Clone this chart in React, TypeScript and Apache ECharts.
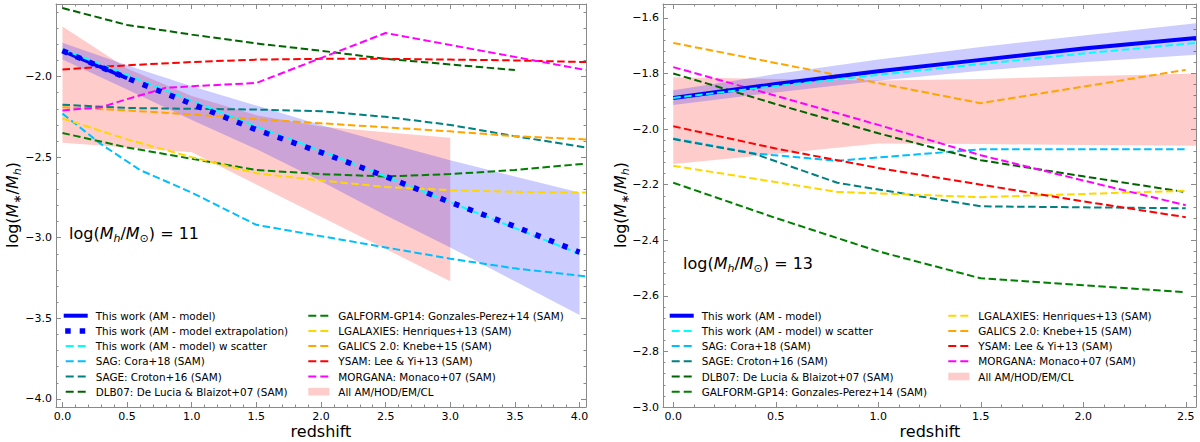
import React, { useEffect, useRef } from "react";
import * as echarts from "echarts";

const FONT = "DejaVu Sans";
const AX = "#8a8a8a";

// ---------- series names ----------
const N_AM = "This work (AM - model)";
const N_EXT = "This work (AM - model extrapolation)";
const N_SCAT = "This work (AM - model) w scatter";
const N_SAG = "SAG: Cora+18 (SAM)";
const N_SAGE = "SAGE: Croton+16 (SAM)";
const N_DLB = "DLB07: De Lucia & Blaizot+07 (SAM)";
const N_GP14 = "GALFORM-GP14: Gonzales-Perez+14 (SAM)";
const N_LGAL = "LGALAXIES: Henriques+13 (SAM)";
const N_GALICS = "GALICS 2.0: Knebe+15 (SAM)";
const N_YSAM = "YSAM: Lee & Yi+13 (SAM)";
const N_MORG = "MORGANA: Monaco+07 (SAM)";
const N_ALL = "All AM/HOD/EM/CL";

// ---------- left panel: log(Mh/Msun) = 11 ----------
const L_AM_Z = [0, 0.5];
const L_AM = [-1.84, -2.01];
const L_Z = [0, 0.5, 1, 1.5, 2, 2.5, 3, 3.5, 4];
const L_EXT = [-1.84, -2.01, -2.17, -2.33, -2.47, -2.62, -2.78, -2.93, -3.09];
const L_SCAT = [-1.83, -1.99, -2.15, -2.31, -2.46, -2.62, -2.78, -2.94, -3.1];
const L_BAND_HI = [-1.79, -1.93, -2.06, -2.18, -2.3, -2.41, -2.52, -2.62, -2.72];
const L_BAND_LO = [-1.894, -2.08, -2.27, -2.45, -2.65, -2.86, -3.06, -3.27, -3.48];
const L_ALL_Z = [0, 0.5, 1, 1.5, 2, 2.5, 3];
const L_ALL_HI = [-1.69, -1.95, -2.12, -2.24, -2.31, -2.345, -2.38];
const L_ALL_LO = [-2.41, -2.44, -2.47, -2.67, -2.87, -3.07, -3.27];
const L_SAG_Z = [0, 0.3, 0.6, 1, 1.5, 2, 2.5, 3, 3.5, 4.05];
const L_SAG = [-2.23, -2.42, -2.58, -2.72, -2.92, -2.99, -3.06, -3.13, -3.19, -3.24];
const L_SAM_Z = [0, 0.5, 1, 1.5, 2, 2.5, 3, 3.5, 4.05];
const L_SAGE = [-2.175, -2.195, -2.2, -2.205, -2.215, -2.25, -2.3, -2.37, -2.44];
const L_DLB_Z = [0, 0.5, 1, 1.5, 2, 2.5, 3, 3.5];
const L_DLB = [-1.575, -1.68, -1.74, -1.795, -1.84, -1.89, -1.925, -1.96];
const L_GP14 = [-2.35, -2.44, -2.51, -2.58, -2.605, -2.62, -2.605, -2.58, -2.54];
const L_LGAL = [-2.26, -2.39, -2.5, -2.6, -2.645, -2.685, -2.705, -2.715, -2.72];
const L_GALICS = [-2.19, -2.21, -2.235, -2.265, -2.29, -2.315, -2.34, -2.37, -2.39];
const L_YSAM = [-1.956, -1.93, -1.91, -1.895, -1.89, -1.89, -1.895, -1.9, -1.91];
const L_MORG_Z = [0, 0.3, 0.5, 0.8, 1, 1.5, 2.5, 4.05];
const L_MORG = [-2.21, -2.19, -2.14, -2.07, -2.06, -2.04, -1.73, -1.96];

// ---------- right panel: log(Mh/Msun) = 13 ----------
const R_AM_Z = [0, 0.5, 1, 1.5, 2, 2.55];
const R_AM = [-1.888, -1.838, -1.792, -1.751, -1.71, -1.672];
const R_SCAT = [-1.888, -1.845, -1.805, -1.766, -1.728, -1.69];
const R_BAND_HI = [-1.86, -1.802, -1.75, -1.705, -1.663, -1.619];
const R_BAND_LO = [-1.913, -1.868, -1.826, -1.79, -1.76, -1.733];
const R_ALL_HI = [-1.814, -1.82, -1.825, -1.82, -1.81, -1.8];
const R_ALL_LO = [-2.126, -2.09, -2.052, -2.054, -2.057, -2.06];
const R_Z = [0, 0.5, 1, 1.5, 2, 2.5];
const R_SAG_Z = [0, 0.4, 0.8, 1.5, 2.5];
const R_SAG = [-2.034, -2.088, -2.114, -2.073, -2.073];
const R_SAGE = [-2.036, -2.09, -2.193, -2.278, -2.285];
const R_DLB = [-1.8, -1.91, -2.015, -2.112, -2.17, -2.227];
const R_GP14 = [-2.193, -2.32, -2.44, -2.537, -2.562, -2.587];
const R_LGAL_Z = [0, 0.8, 1.5, 2.5];
const R_LGAL = [-2.132, -2.226, -2.245, -2.222];
const R_GALICS_Z = [0, 1.5, 2.5];
const R_GALICS = [-1.69, -1.907, -1.787];
const R_YSAM = [-1.99, -2.07, -2.14, -2.2, -2.26, -2.317];
const R_MORG = [-1.777, -1.88, -1.985, -2.094, -2.185, -2.274];

// ---------- ticks ----------
const L_X_TICKS = [0, 0.5, 1, 1.5, 2, 2.5, 3, 3.5, 4];
const L_Y_TICKS = [-4.0, -3.5, -3.0, -2.5, -2.0];
const R_X_TICKS = [0, 0.5, 1, 1.5, 2, 2.5];
const R_Y_TICKS = [-3.0, -2.8, -2.6, -2.4, -2.2, -2.0, -1.8, -1.6];

// ---------- legends ----------
const L_LEG_1 = [N_AM, N_EXT, N_SCAT, N_SAG, N_SAGE, N_DLB];
const L_LEG_2 = [N_GP14, N_LGAL, N_GALICS, N_YSAM, N_MORG, N_ALL];
const R_LEG_1 = [N_AM, N_SCAT, N_SAG, N_SAGE, N_DLB, N_GP14];
const R_LEG_2 = [N_LGAL, N_GALICS, N_YSAM, N_MORG, N_ALL];

const COLORS: Record<string, string> = {
  [N_AM]: "#0000ff",
  [N_EXT]: "#0000ff",
  [N_SCAT]: "#00ffff",
  [N_SAG]: "#00bfff",
  [N_SAGE]: "#008080",
  [N_DLB]: "#006400",
  [N_GP14]: "#008000",
  [N_LGAL]: "#ffd700",
  [N_GALICS]: "#ffa500",
  [N_YSAM]: "#ff0000",
  [N_MORG]: "#ff00ff",
  [N_ALL]: "rgba(255,0,0,0.2)",
};
const BAND_BLUE = "rgba(0,0,255,0.2)";
const DASH = [7.5, 3.5];
const DOT = [5.5, 9];

function steps(a: number, b: number, step: number) {
  const n = Math.round((b - a) / step);
  const out: number[] = [];
  for (let i = 0; i <= n; i++) out.push(+(a + i * step).toFixed(4));
  return out;
}

const fmt = (v: number) => v.toFixed(1).replace("-", "\u2212");

function xAxes(grid: number, min: number, max: number, majors: number[], minors: number[]) {
  const base = { type: "value", gridIndex: grid, min, max, splitLine: { show: false } };
  const line = { show: true, onZero: false, lineStyle: { color: AX, width: 1 } };
  const noLine = { show: false, onZero: false };
  const tick = (vals: number[], len: number) => ({
    show: true, inside: true, length: len, customValues: vals, lineStyle: { color: AX, width: 1 },
  });
  return [
    {
      ...base, position: "bottom", axisLine: line, axisTick: tick(majors, 5),
      axisLabel: { show: true, customValues: majors, formatter: fmt, margin: 4, fontSize: 11, fontFamily: FONT, color: "#000" },
    },
    { ...base, position: "bottom", axisLine: noLine, axisTick: tick(minors, 2.5), axisLabel: { show: false } },
    { ...base, position: "top", axisLine: line, axisTick: tick(majors, 5), axisLabel: { show: false } },
    { ...base, position: "top", axisLine: noLine, axisTick: tick(minors, 2.5), axisLabel: { show: false } },
  ];
}

function yAxes(grid: number, min: number, max: number, majors: number[], minors: number[]) {
  const base = { type: "value", gridIndex: grid, min, max, splitLine: { show: false } };
  const line = { show: true, onZero: false, lineStyle: { color: AX, width: 1 } };
  const noLine = { show: false, onZero: false };
  const tick = (vals: number[], len: number) => ({
    show: true, inside: true, length: len, customValues: vals, lineStyle: { color: AX, width: 1 },
  });
  return [
    {
      ...base, position: "left", axisLine: line, axisTick: tick(majors, 5),
      axisLabel: { show: true, customValues: majors, formatter: fmt, margin: 4, fontSize: 11, fontFamily: FONT, color: "#000" },
    },
    { ...base, position: "left", axisLine: noLine, axisTick: tick(minors, 2.5), axisLabel: { show: false } },
    { ...base, position: "right", axisLine: line, axisTick: tick(majors, 5), axisLabel: { show: false } },
    { ...base, position: "right", axisLine: noLine, axisTick: tick(minors, 2.5), axisLabel: { show: false } },
  ];
}

function lineSeries(name: string, panel: number, zs: number[], vs: number[], opts: any = {}) {
  return {
    type: "line",
    name,
    xAxisIndex: panel * 4,
    yAxisIndex: panel * 4,
    data: zs.map((z, i) => [z, vs[i]]),
    showSymbol: false,
    symbol: "none",
    silent: true,
    z: opts.z ?? 3,
    clip: true,
    lineStyle: {
      color: COLORS[name],
      width: opts.width ?? 2,
      type: opts.type ?? DASH,
      cap: "butt",
    },
  };
}

function bandSeries(name: string, panel: number, zs: number[], hi: number[], lo: number[], color: string, z: number) {
  return {
    type: "custom",
    name,
    xAxisIndex: panel * 4,
    yAxisIndex: panel * 4,
    data: [[zs[0], hi[0]]],
    silent: true,
    z,
    renderItem: (_p: any, api: any) => {
      const pts: number[][] = [];
      zs.forEach((zz, i) => pts.push(api.coord([zz, hi[i]])));
      for (let i = zs.length - 1; i >= 0; i--) pts.push(api.coord([zs[i], lo[i]]));
      return { type: "polygon", shape: { points: pts }, style: { fill: color } };
    },
  };
}

function legendGraphics(names: string[], tx: number, y0: number) {
  const out: any[] = [];
  names.forEach((n, i) => {
    const y = y0 + i * 15.2;
    const c = COLORS[n];
    if (n === N_ALL) {
      out.push({ type: "rect", shape: { x: tx - 30, y: y - 3.8, width: 21, height: 7.6 }, style: { fill: c } });
    } else if (n === N_AM) {
      out.push({ type: "line", shape: { x1: tx - 32, y1: y, x2: tx - 8, y2: y }, style: { stroke: c, lineWidth: 4 } });
    } else if (n === N_EXT) {
      out.push({
        type: "line", shape: { x1: tx - 30.5, y1: y, x2: tx - 8, y2: y },
        style: { stroke: c, lineWidth: 5.5, lineDash: DOT, lineCap: "butt" },
      });
    } else {
      out.push({
        type: "line", shape: { x1: tx - 30, y1: y, x2: tx - 10, y2: y },
        style: { stroke: c, lineWidth: 2, lineDash: [8, 4], lineCap: "butt" },
      });
    }
    out.push({
      type: "text", x: tx, y,
      style: { text: n, fontSize: 10.4, fontFamily: FONT, fill: "#000", align: "left", verticalAlign: "middle" },
    });
  });
  return out;
}

const RICH = {
  n: { fontSize: 16, fontFamily: FONT, fill: "#000", lineHeight: 22, verticalAlign: "middle" },
  i: { fontSize: 16, fontFamily: FONT, fontStyle: "italic", fill: "#000", lineHeight: 22, verticalAlign: "middle" },
  s: { fontSize: 11, fontFamily: FONT, fontStyle: "italic", fill: "#000", lineHeight: 11, verticalAlign: "bottom" },
  u: { fontSize: 11, fontFamily: FONT, fill: "#000", lineHeight: 11, verticalAlign: "bottom" },
};

function buildOption() {
  const series: any[] = [
    // left panel
    bandSeries(N_ALL, 0, L_ALL_Z, L_ALL_HI, L_ALL_LO, COLORS[N_ALL], 1),
    bandSeries("AM band", 0, L_Z, L_BAND_HI, L_BAND_LO, BAND_BLUE, 2),
    lineSeries(N_SAG, 0, L_SAG_Z, L_SAG),
    lineSeries(N_SAGE, 0, L_SAM_Z, L_SAGE),
    lineSeries(N_DLB, 0, L_DLB_Z, L_DLB),
    lineSeries(N_GP14, 0, L_SAM_Z, L_GP14),
    lineSeries(N_LGAL, 0, L_SAM_Z, L_LGAL),
    lineSeries(N_GALICS, 0, L_SAM_Z, L_GALICS),
    lineSeries(N_YSAM, 0, L_SAM_Z, L_YSAM),
    lineSeries(N_MORG, 0, L_MORG_Z, L_MORG),
    lineSeries(N_AM, 0, L_AM_Z, L_AM, { width: 4, type: "solid", z: 4 }),
    lineSeries(N_SCAT, 0, L_Z, L_SCAT, { z: 4 }),
    lineSeries(N_EXT, 0, L_Z, L_EXT, { width: 5.5, type: DOT, z: 5 }),
    // right panel
    bandSeries(N_ALL, 1, R_AM_Z, R_ALL_HI, R_ALL_LO, COLORS[N_ALL], 1),
    bandSeries("AM band", 1, R_AM_Z, R_BAND_HI, R_BAND_LO, BAND_BLUE, 2),
    lineSeries(N_SAG, 1, R_SAG_Z, R_SAG),
    lineSeries(N_SAGE, 1, R_SAG_Z, R_SAGE),
    lineSeries(N_DLB, 1, R_Z, R_DLB),
    lineSeries(N_GP14, 1, R_Z, R_GP14),
    lineSeries(N_LGAL, 1, R_LGAL_Z, R_LGAL),
    lineSeries(N_GALICS, 1, R_GALICS_Z, R_GALICS),
    lineSeries(N_YSAM, 1, R_Z, R_YSAM),
    lineSeries(N_MORG, 1, R_Z, R_MORG),
    lineSeries(N_AM, 1, R_AM_Z, R_AM, { width: 4, type: "solid", z: 4 }),
    lineSeries(N_SCAT, 1, R_AM_Z, R_SCAT, { z: 5 }),
  ];

  const graphic: any[] = [
    { type: "text", x: 321, y: 431, style: { text: "redshift", fontSize: 16, fontFamily: FONT, fill: "#000", align: "center", verticalAlign: "middle" } },
    { type: "text", x: 930, y: 431, style: { text: "redshift", fontSize: 16, fontFamily: FONT, fill: "#000", align: "center", verticalAlign: "middle" } },
    {
      type: "text", x: 12, y: 205, rotation: Math.PI / 2,
      style: { text: "{n|log(}{i|M}{s|\u2217}{n|/}{i|M}{s|h}{n|)}", rich: RICH, align: "center", verticalAlign: "middle", fontSize: 16, fontFamily: FONT, fill: "#000" },
    },
    {
      type: "text", x: 620, y: 205, rotation: Math.PI / 2,
      style: { text: "{n|log(}{i|M}{s|\u2217}{n|/}{i|M}{s|h}{n|)}", rich: RICH, align: "center", verticalAlign: "middle", fontSize: 16, fontFamily: FONT, fill: "#000" },
    },
    {
      type: "text", x: 69, y: 233,
      style: { text: "{n|log(}{i|M}{s|h}{n|/}{i|M}{u|\u2299}{n|) = 11}", rich: RICH, align: "left", verticalAlign: "middle", fontSize: 16, fontFamily: FONT, fill: "#000" },
    },
    {
      type: "text", x: 683, y: 263,
      style: { text: "{n|log(}{i|M}{s|h}{n|/}{i|M}{u|\u2299}{n|) = 13}", rich: RICH, align: "left", verticalAlign: "middle", fontSize: 16, fontFamily: FONT, fill: "#000" },
    },
    ...legendGraphics(L_LEG_1, 95.7, 315.7),
    ...legendGraphics(L_LEG_2, 338.3, 315.7),
    ...legendGraphics(R_LEG_1, 701.7, 315.7),
    ...legendGraphics(R_LEG_2, 978.3, 315.7),
  ];

  return {
    animation: false,
    backgroundColor: "#ffffff",
    textStyle: { fontFamily: FONT },
    grid: [
      { left: 56, top: 4, width: 530, height: 403 },
      { left: 663, top: 4, width: 533, height: 403 },
    ],
    xAxis: [
      ...xAxes(0, -0.05, 4.05, L_X_TICKS, steps(0, 4, 0.1)),
      ...xAxes(1, -0.05, 2.55, R_X_TICKS, steps(0, 2.5, 0.1)),
    ],
    yAxis: [
      ...yAxes(0, -4.05, -1.55, L_Y_TICKS, steps(-4.0, -1.6, 0.1)),
      ...yAxes(1, -3.0, -1.55, R_Y_TICKS, steps(-3.0, -1.56, 0.04)),
    ],
    series,
    graphic,
  };
}

export default function App() {
  const ref = useRef<HTMLDivElement>(null);
  useEffect(() => {
    if (!ref.current) return;
    const chart = echarts.init(ref.current, undefined, { renderer: "svg" });
    chart.setOption(buildOption() as any);
    return () => chart.dispose();
  }, []);
  return (
    <div
      ref={ref}
      style={{ position: "fixed", left: 0, top: 0, width: 1200, height: 442, background: "#fff" }}
    />
  );
}
